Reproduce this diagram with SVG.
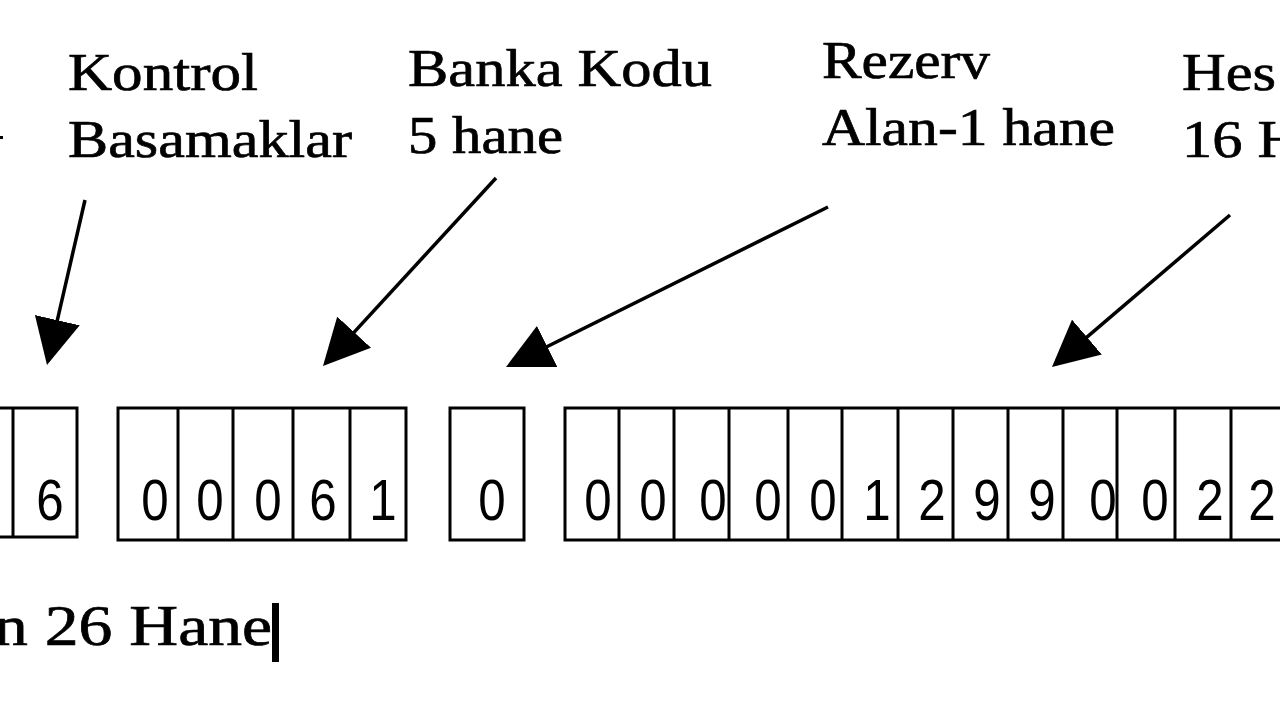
<svg xmlns="http://www.w3.org/2000/svg" width="1280" height="720" viewBox="0 0 1280 720">
<defs>
<style>
.lbl{font-family:"Liberation Serif","Times New Roman",serif;font-size:53px;fill:#000;stroke:#000;stroke-width:0.7px}
.dg{font-family:"Liberation Sans",Arial,sans-serif;font-size:58px;fill:#000;text-anchor:middle}
.box{fill:none;stroke:#000;stroke-width:3}
.arr{stroke:#000;stroke-width:3.5;fill:none;marker-end:url(#head)}
</style>
<marker id="head" viewBox="0 0 46 46" refX="42" refY="23" markerWidth="46" markerHeight="46" markerUnits="userSpaceOnUse" orient="auto">
<path d="M0,0 L46,23 L0,46 Z" fill="#000"/>
</marker>
</defs>
<rect width="1280" height="720" fill="#fff"/>

<g id="label-kontrol">
<text class="lbl" x="68" y="90" textLength="190" lengthAdjust="spacingAndGlyphs">Kontrol</text>
<text class="lbl" x="68" y="157" textLength="284" lengthAdjust="spacingAndGlyphs">Basamaklar</text>
</g>
<g id="label-banka">
<text class="lbl" x="408" y="86" textLength="304" lengthAdjust="spacingAndGlyphs">Banka Kodu</text>
<text class="lbl" x="408" y="153" textLength="155" lengthAdjust="spacingAndGlyphs">5 hane</text>
</g>
<g id="label-rezerv">
<text class="lbl" x="822" y="78" textLength="168" lengthAdjust="spacingAndGlyphs">Rezerv</text>
<text class="lbl" x="822" y="145" textLength="293" lengthAdjust="spacingAndGlyphs">Alan-1 hane</text>
</g>
<g id="label-hesap">
<text class="lbl" x="1182" y="90" textLength="94" lengthAdjust="spacingAndGlyphs">Hes</text>
<text class="lbl" x="1182" y="157" textLength="119" lengthAdjust="spacingAndGlyphs">16 H</text>
</g>
<g id="edge-mark">
<rect x="0" y="136" width="3" height="3" fill="#000"/>
</g>

<g id="connectors">
<line class="arr" x1="85" y1="200" x2="47.9" y2="361.1"/>
<line class="arr" x1="496" y1="178" x2="325.7" y2="363.1"/>
<line class="arr" x1="828" y1="207" x2="509.6" y2="365.2"/>
<line class="arr" x1="1230" y1="215" x2="1055" y2="364.4"/>
</g>

<g id="group-kontrol">
<rect class="box" x="-5" y="408" width="82" height="129"/>
<line class="box" x1="13" y1="408" x2="13" y2="537"/>
</g>
<g id="group-banka">
<rect class="box" x="118" y="408" width="288" height="132"/>
<line class="box" x1="178" y1="408" x2="178" y2="540"/>
<line class="box" x1="233" y1="408" x2="233" y2="540"/>
<line class="box" x1="293" y1="408" x2="293" y2="540"/>
<line class="box" x1="350" y1="408" x2="350" y2="540"/>
</g>
<g id="group-rezerv">
<rect class="box" x="450" y="408" width="74" height="132"/>
</g>
<g id="group-hesap">
<rect class="box" x="565" y="408" width="730" height="132"/>
<line class="box" x1="619" y1="408" x2="619" y2="540"/>
<line class="box" x1="674" y1="408" x2="674" y2="540"/>
<line class="box" x1="729" y1="408" x2="729" y2="540"/>
<line class="box" x1="788" y1="408" x2="788" y2="540"/>
<line class="box" x1="842" y1="408" x2="842" y2="540"/>
<line class="box" x1="898" y1="408" x2="898" y2="540"/>
<line class="box" x1="953" y1="408" x2="953" y2="540"/>
<line class="box" x1="1008" y1="408" x2="1008" y2="540"/>
<line class="box" x1="1063" y1="408" x2="1063" y2="540"/>
<line class="box" x1="1117" y1="408" x2="1117" y2="540"/>
<line class="box" x1="1175" y1="408" x2="1175" y2="540"/>
<line class="box" x1="1231" y1="408" x2="1231" y2="540"/>
</g>

<g id="digits" transform="scale(0.85,1)">
<text class="dg" x="58.8" y="520">6</text>
<text class="dg" x="182.4" y="520">0</text>
<text class="dg" x="247.1" y="520">0</text>
<text class="dg" x="315.3" y="520">0</text>
<text class="dg" x="380" y="520">6</text>
<text class="dg" x="450.6" y="520">1</text>
<text class="dg" x="578.8" y="520">0</text>
<text class="dg" x="703.5" y="520">0</text>
<text class="dg" x="768.2" y="520">0</text>
<text class="dg" x="838.8" y="520">0</text>
<text class="dg" x="903.5" y="520">0</text>
<text class="dg" x="968.2" y="520">0</text>
<text class="dg" x="1031.8" y="520">1</text>
<text class="dg" x="1096.5" y="520">2</text>
<text class="dg" x="1161.2" y="520">9</text>
<text class="dg" x="1225.9" y="520">9</text>
<text class="dg" x="1297.6" y="520">0</text>
<text class="dg" x="1358.8" y="520">0</text>
<text class="dg" x="1423.5" y="520">2</text>
<text class="dg" x="1484.7" y="520">2</text>
</g>

<g id="total">
<text class="lbl" x="-6" y="645" textLength="278" lengthAdjust="spacingAndGlyphs" style="font-size:56px">n 26 Hane</text>
<rect x="272" y="603" width="7" height="59" fill="#000"/>
</g>
</svg>
